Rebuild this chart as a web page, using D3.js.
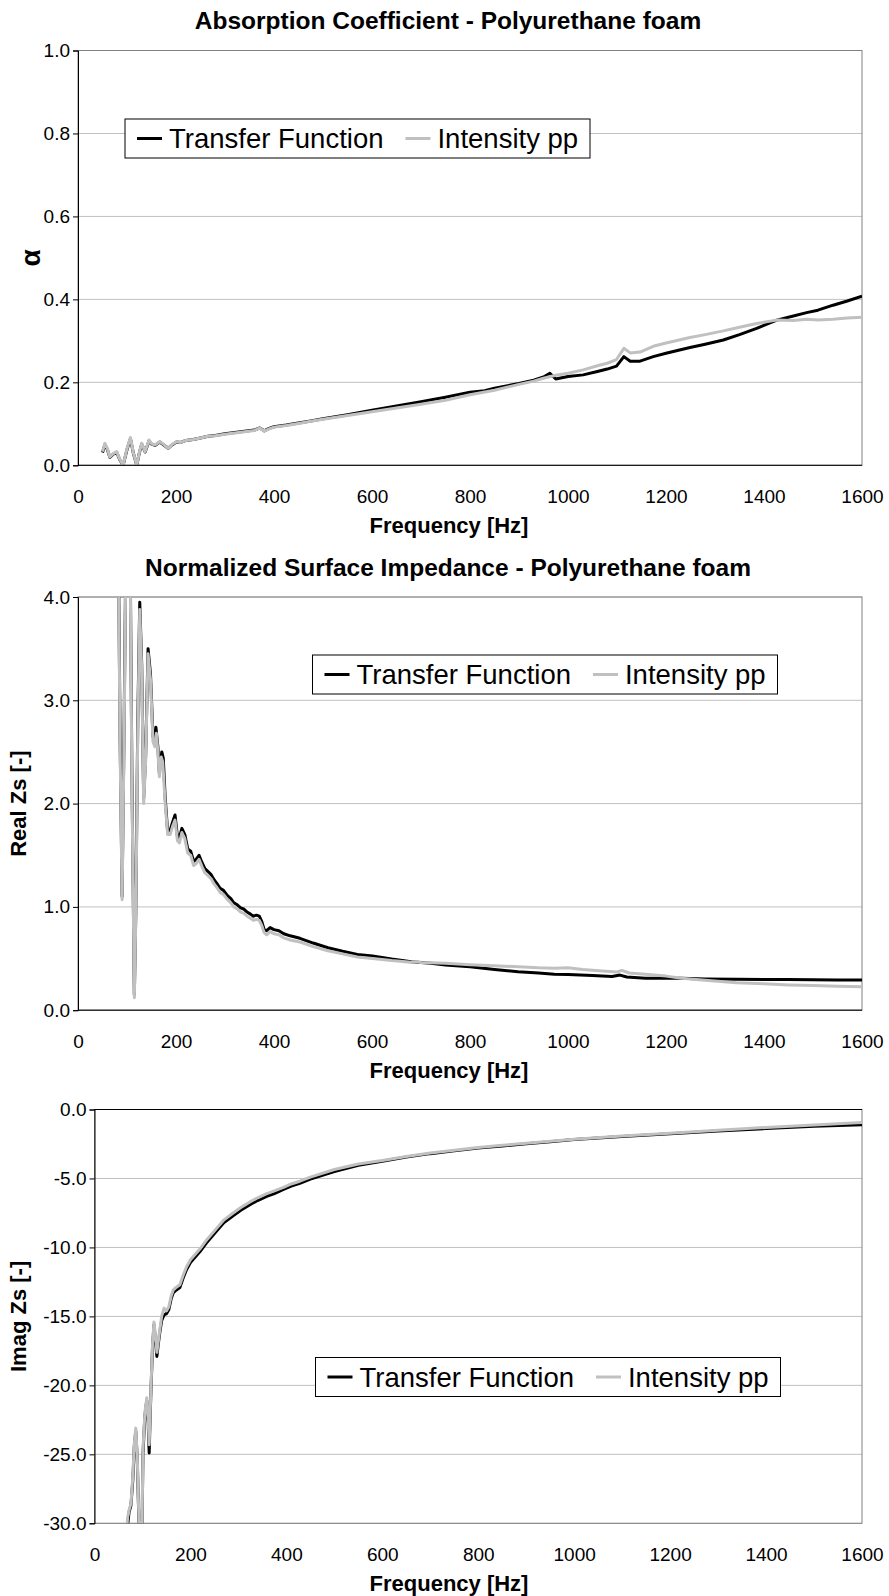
<!DOCTYPE html>
<html>
<head>
<meta charset="utf-8">
<script src="https://cdn.jsdelivr.net/npm/d3@7"></script>
<style>
  body { margin: 0; background: #fff; }
  text { font-family: "Liberation Sans", Arial, sans-serif; fill: #000; }
</style>
</head>
<body>
<div id="chart"></div>
<script>
// ---- data ----
const seriesNames = ["Transfer Function", "Intensity pp"];
const freqTicks = [0, 200, 400, 600, 800, 1000, 1200, 1400, 1600];
const alphaTicks = [0, 0.2, 0.4, 0.6, 0.8, 1.0];
const realTicks = [0, 1, 2, 3, 4];
const imagTicks = [0, -5, -10, -15, -20, -25, -30];

// [frequency Hz, alpha]
const alphaTransfer = [[50,.031],[55,.050],[60,.038],[65,.019],[72,.027],[79,.031],[85,.014],[92,.000],[100,.038],[107,.064],[113,.029],[120,.000],[125,.029],[130,.051],[137,.032],[145,.059],[150,.051],[157,.048],[167,.056],[175,.049],[184,.041],[192,.049],[201,.056],[210,.055],[220,.060],[235,.062],[250,.066],[265,.070],[280,.072],[300,.076],[320,.079],[340,.082],[360,.085],[371,.090],[380,.083],[390,.089],[400,.093],[425,.097],[450,.102],[475,.107],[500,.112],[550,.122],[600,.133],[650,.143],[700,.153],[750,.164],[800,.176],[830,.180],[850,.186],[900,.197],[930,.205],[950,.213],[963,.222],[975,.208],[1000,.214],[1031,.218],[1060,.226],[1080,.232],[1099,.239],[1114,.262],[1127,.251],[1147,.251],[1174,.262],[1200,.270],[1249,.284],[1280,.292],[1317,.302],[1350,.315],[1385,.330],[1426,.350],[1460,.360],[1487,.368],[1510,.374],[1541,.386],[1570,.396],[1600,.408]];
const alphaIntensity = [[50,.033],[55,.053],[60,.040],[65,.020],[72,.028],[79,.033],[85,.015],[92,.000],[100,.040],[107,.067],[113,.030],[120,.000],[125,.030],[130,.053],[137,.033],[145,.061],[150,.052],[157,.049],[167,.057],[175,.050],[184,.041],[192,.050],[201,.057],[210,.055],[220,.060],[235,.062],[250,.066],[265,.070],[280,.071],[300,.075],[320,.078],[340,.081],[360,.084],[371,.090],[380,.082],[390,.088],[400,.092],[425,.096],[450,.101],[475,.106],[500,.111],[550,.120],[600,.129],[650,.138],[700,.147],[750,.157],[800,.170],[850,.181],[900,.195],[930,.203],[950,.210],[975,.217],[1000,.222],[1031,.230],[1060,.240],[1080,.246],[1099,.255],[1114,.282],[1127,.271],[1147,.273],[1174,.287],[1200,.295],[1249,.308],[1280,.315],[1317,.324],[1350,.333],[1385,.342],[1426,.350],[1460,.349],[1487,.352],[1510,.350],[1541,.352],[1570,.355],[1600,.357]];

// [frequency Hz, Re(Zs)]
const realTransfer = [[75,7.0],[82,4.7],[86,2.6],[90,1.1],[94,2.7],[98,4.6],[102,6.0],[106,4.7],[110,2.3],[115,0.15],[118,0.95],[122,2.8],[126,3.95],[130,3.35],[134,2.05],[138,2.45],[143,3.5],[148,3.25],[153,2.65],[157,2.6],[159,2.74],[163,2.55],[166,2.3],[171,2.5],[174,2.44],[178,2.05],[183,1.73],[188,1.74],[193,1.82],[198,1.89],[203,1.68],[207,1.67],[212,1.76],[218,1.7],[224,1.56],[230,1.54],[236,1.44],[241,1.46],[247,1.5],[253,1.43],[259,1.37],[266,1.34],[272,1.31],[278,1.26],[283,1.23],[290,1.18],[297,1.16],[305,1.11],[312,1.08],[318,1.04],[325,1.02],[332,0.99],[338,0.98],[345,0.95],[352,0.93],[358,0.91],[364,0.92],[370,0.91],[375,0.86],[380,0.78],[385,0.77],[392,0.8],[400,0.78],[410,0.77],[420,0.74],[433,0.72],[453,0.696],[480,0.65],[510,0.605],[540,0.57],[570,0.54],[601,0.525],[640,0.495],[680,0.47],[720,0.455],[750,0.438],[800,0.42],[850,0.395],[898,0.373],[940,0.36],[972,0.347],[1000,0.345],[1050,0.335],[1090,0.326],[1106,0.34],[1120,0.322],[1158,0.309],[1200,0.31],[1232,0.309],[1280,0.303],[1344,0.299],[1400,0.296],[1450,0.297],[1500,0.294],[1550,0.293],[1600,0.292]];
const realIntensity = [[75,7.0],[82,4.6],[86,2.5],[90,1.07],[94,2.6],[98,4.5],[102,6.0],[106,4.6],[110,2.2],[115,0.12],[118,0.9],[122,2.7],[126,3.88],[130,3.3],[134,2.0],[138,2.4],[143,3.45],[148,3.2],[153,2.6],[157,2.55],[160,2.68],[163,2.5],[166,2.26],[170,2.45],[173,2.4],[178,2.0],[183,1.7],[188,1.7],[193,1.78],[198,1.84],[203,1.64],[207,1.62],[212,1.72],[218,1.66],[224,1.52],[230,1.5],[236,1.4],[241,1.42],[247,1.46],[253,1.39],[259,1.33],[266,1.3],[272,1.27],[278,1.22],[283,1.19],[290,1.14],[297,1.12],[305,1.07],[312,1.04],[318,1.0],[325,0.98],[332,0.95],[338,0.94],[345,0.91],[352,0.89],[358,0.87],[364,0.88],[370,0.87],[375,0.82],[380,0.75],[385,0.73],[392,0.76],[400,0.74],[410,0.73],[420,0.70],[433,0.68],[453,0.66],[480,0.615],[510,0.575],[540,0.545],[570,0.515],[601,0.50],[640,0.48],[680,0.465],[690,0.47],[700,0.462],[720,0.46],[750,0.454],[800,0.44],[850,0.43],[898,0.421],[940,0.41],[972,0.405],[1000,0.41],[1030,0.395],[1070,0.38],[1100,0.37],[1110,0.385],[1125,0.36],[1158,0.347],[1200,0.33],[1232,0.309],[1280,0.29],[1344,0.266],[1400,0.255],[1450,0.245],[1500,0.238],[1550,0.232],[1600,0.228]];

// [frequency Hz, Im(Zs)]
const imagTransfer = [[68,-30.5],[72,-29.2],[76,-28.7],[80,-26.8],[83,-24.4],[86,-23.3],[89,-25.2],[92,-29.2],[95,-32],[99,-30.8],[101,-25],[105,-22.2],[109,-21.1],[112,-22.8],[114,-24.9],[116,-22.3],[118,-20.1],[121,-17.2],[124,-15.6],[127,-16.7],[130,-17.9],[133,-17],[136,-16.2],[140,-15.3],[145,-14.9],[150,-14.8],[155,-14.5],[160,-13.7],[164,-13.3],[170,-13.1],[178,-12.9],[185,-12.2],[192,-11.6],[200,-11.1],[210,-10.7],[220,-10.3],[235,-9.6],[255,-8.8],[270,-8.2],[289,-7.7],[305,-7.3],[324,-6.9],[340,-6.6],[359,-6.3],[375,-6.1],[394,-5.8],[410,-5.55],[428,-5.35],[450,-5.05],[500,-4.5],[550,-4.05],[600,-3.75],[650,-3.45],[700,-3.2],[750,-3.0],[800,-2.8],[850,-2.64],[900,-2.48],[950,-2.33],[1000,-2.18],[1100,-1.95],[1200,-1.76],[1300,-1.56],[1400,-1.38],[1500,-1.22],[1600,-1.1]];
const imagIntensity = [[66,-31],[69,-29.6],[73,-28.9],[76,-28.6],[80,-26.5],[83,-24.2],[86,-23.1],[89,-25],[92,-29],[95,-32],[99,-30.5],[101,-24.7],[105,-22],[109,-20.9],[112,-22.5],[114,-24.3],[116,-22],[118,-19.9],[121,-17],[124,-15.4],[127,-16.4],[130,-17.6],[133,-16.8],[136,-16.0],[140,-15.0],[145,-14.4],[150,-14.6],[155,-14.3],[160,-13.5],[164,-13.1],[170,-12.9],[178,-12.7],[185,-12.0],[192,-11.4],[200,-10.9],[210,-10.5],[220,-10.1],[235,-9.4],[255,-8.6],[270,-8.0],[289,-7.5],[305,-7.1],[324,-6.7],[340,-6.4],[359,-6.1],[375,-5.9],[394,-5.65],[410,-5.4],[428,-5.2],[450,-4.9],[500,-4.35],[550,-3.95],[600,-3.7],[650,-3.4],[700,-3.15],[750,-2.95],[800,-2.75],[850,-2.6],[900,-2.45],[950,-2.3],[1000,-2.15],[1100,-1.92],[1200,-1.72],[1300,-1.5],[1400,-1.3],[1500,-1.12],[1600,-0.95]];

// ---- layout ----
const W = 889, H = 1596;
const colors = ["#000000", "#c0c0c0"];

const panels = [
  { id: "p1", title: "Absorption Coefficient - Polyurethane foam", titleY: 29,
    yLabel: "α", yLabelX: 30, yLabelSize: 28,
    left: 78, right: 862, top: 50.5, bottom: 465.3, yDomain: [0, 1], yTicks: alphaTicks,
    series: [alphaTransfer, alphaIntensity], legend: [125, 119] },
  { id: "p2", title: "Normalized Surface Impedance - Polyurethane foam", titleY: 576,
    yLabel: "Real Zs [-]", yLabelX: 18, yLabelSize: 22,
    left: 78, right: 862, top: 597, bottom: 1010.2, yDomain: [0, 4], yTicks: realTicks,
    series: [realTransfer, realIntensity], legend: [312.5, 655] },
  { id: "p3", title: null,
    yLabel: "Imag Zs [-]", yLabelX: 18, yLabelSize: 22,
    left: 94.5, right: 862, top: 1109.5, bottom: 1523.3, yDomain: [-30, 0], yTicks: imagTicks,
    series: [imagTransfer, imagIntensity], legend: [315.5, 1357.5] }
];

const svg = d3.select("#chart").append("svg")
    .attr("width", W)
    .attr("height", H)
    .style("display", "block");

svg.append("rect").attr("width", W).attr("height", H).attr("fill", "#fff");

panels.forEach(p => {
    const x = d3.scaleLinear().domain([0, 1600]).range([p.left, p.right]);
    const y = d3.scaleLinear().domain(p.yDomain).range([p.bottom, p.top]);
    const g = svg.append("g");

    // title
    if (p.title) {
        g.append("text")
            .attr("x", 448).attr("y", p.titleY)
            .attr("text-anchor", "middle")
            .style("font-size", "24.5px").style("font-weight", "bold")
            .text(p.title);
    }

    // gridlines
    g.selectAll(".grid")
        .data(p.yTicks)
        .enter().append("line")
            .attr("x1", p.left).attr("x2", p.right)
            .attr("y1", d => y(d)).attr("y2", d => y(d))
            .attr("stroke", "#c0c0c0").attr("stroke-width", 1);

    // plot border
    g.append("rect")
        .attr("x", p.left).attr("y", p.top)
        .attr("width", p.right - p.left).attr("height", p.bottom - p.top)
        .attr("fill", "none").attr("stroke", "#808080").attr("stroke-width", 1);

    // data lines (clipped to plot area)
    svg.append("clipPath").attr("id", "clip-" + p.id)
        .append("rect")
            .attr("x", p.left).attr("y", p.top)
            .attr("width", p.right - p.left).attr("height", p.bottom - p.top);

    const line = d3.line().x(d => x(d[0])).y(d => y(d[1]));
    const lines = g.append("g").attr("clip-path", `url(#clip-${p.id})`);
    p.series.forEach((s, i) => {
        lines.append("path")
            .datum(s)
            .attr("fill", "none")
            .attr("stroke", colors[i])
            .attr("stroke-width", 3)
            .attr("stroke-linejoin", "round")
            .attr("d", line);
    });

    // axis lines: value axis on the left, category axis where y = 0
    g.append("line")
        .attr("x1", p.left).attr("x2", p.right)
        .attr("y1", y(0)).attr("y2", y(0))
        .attr("stroke", "#000").attr("stroke-width", 1);

    g.append("g")
        .attr("transform", `translate(${p.left},0)`)
        .call(d3.axisLeft(y).tickValues(p.yTicks).tickSize(5).tickPadding(3)
            .tickFormat(d => d.toFixed(1)))
        .call(ax => ax.select(".domain").attr("stroke", "#000"))
        .call(ax => ax.selectAll("text").attr("fill", "#000")
            .style("font-family", "'Liberation Sans', Arial, sans-serif").style("font-size", "19px"));

    g.append("g")
        .attr("transform", `translate(0,${p.bottom})`)
        .call(d3.axisBottom(x).tickValues(freqTicks).tickSize(0).tickPadding(24)
            .tickFormat(d => String(d)))
        .call(ax => ax.select(".domain").remove())
        .call(ax => ax.selectAll("text").attr("fill", "#000")
            .style("font-family", "'Liberation Sans', Arial, sans-serif").style("font-size", "19px"));

    // axis titles
    g.append("text")
        .attr("x", 449).attr("y", p.bottom + 68)
        .attr("text-anchor", "middle")
        .style("font-size", "22px").style("font-weight", "bold")
        .text("Frequency [Hz]");

    g.append("text")
        .attr("transform", `translate(${p.yLabelX},${(p.top + p.bottom) / 2}) rotate(-90)`)
        .attr("text-anchor", "middle")
        .attr("dy", "0.35em")
        .style("font-size", p.yLabelSize + "px").style("font-weight", "bold")
        .text(p.yLabel);

    // legend
    const lg = g.append("g").attr("transform", `translate(${p.legend[0]},${p.legend[1]})`);
    lg.append("rect")
        .attr("width", 465).attr("height", 39)
        .attr("fill", "#fff").attr("stroke", "#000").attr("stroke-width", 1);
    let cx = 12;
    seriesNames.forEach((name, i) => {
        lg.append("line")
            .attr("x1", cx).attr("x2", cx + 25)
            .attr("y1", 19.5).attr("y2", 19.5)
            .attr("stroke", colors[i]).attr("stroke-width", 3);
        const t = lg.append("text")
            .attr("x", cx + 32).attr("y", 19.5)
            .attr("dy", "0.36em")
            .style("font-size", "27.5px")
            .text(name);
        cx += 32 + t.node().getComputedTextLength() + 22;
    });
});
</script>
</body>
</html>
